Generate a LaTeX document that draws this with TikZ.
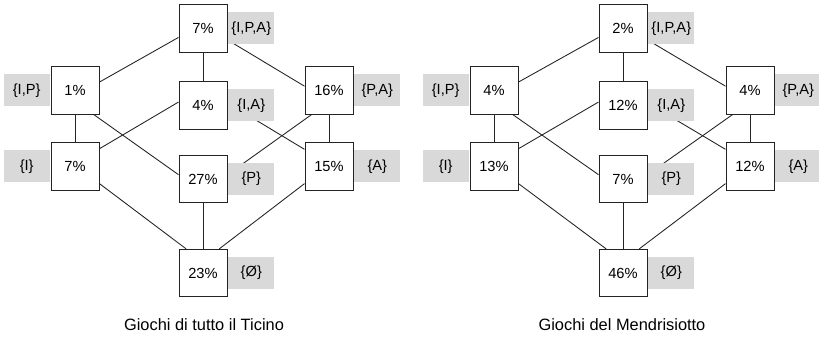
\documentclass[tikz,border=0pt]{standalone}
\usepackage{fontspec}
\setmainfont{Liberation Sans}
\usetikzlibrary{backgrounds}
\definecolor{labelgray}{RGB}{217,217,217}
\definecolor{edgegray}{RGB}{35,35,35}
\tikzset{
  valbox/.style={draw=edgegray, line width=0.75pt, fill=white,
    minimum width=36pt, minimum height=35.5pt, inner sep=0pt,
    font=\fontsize{11}{13}\selectfont},
  setlabel/.style={fill=labelgray, minimum width=34.5pt, minimum height=24pt,
    inner sep=0pt, font=\fontsize{11}{13}\selectfont},
  link/.style={draw=edgegray, line width=0.65pt},
  caption/.style={font=\fontsize{12.3}{14}\selectfont}
}
% Hasse diagram edges of the subset lattice of {I,P,A}
\newcommand{\latticelinks}[1]{%
  \draw[link] (#1ipa.200) -- (#1ip.19);
  \draw[link] (#1ipa.south) -- (#1ia.north);
  \draw[link] (#1ipa.335) -- (#1pa.170);
  \draw[link] (#1ip.south) -- (#1i.north);
  \draw[link] (#1ip.308) -- (#1p.170);
  \draw[link] (#1ia.172) -- (#1i.36);
  \draw[link] (#1ia.6) -- (#1a.145);
  \draw[link] (#1pa.234) -- (#1p.10);
  \draw[link] (#1pa.south) -- (#1a.north);
  \draw[link] (#1i.325) -- (#1e.125);
  \draw[link] (#1p.south) -- (#1e.north);
  \draw[link] (#1a.215) -- (#1e.56);
}
% set labels beside each box
\newcommand{\latticelabels}[1]{%
  \node[setlabel, anchor=west] (#1ipa-set) at ([xshift=0.4pt]#1ipa.east) {\{I,P,A\}};
  \node[setlabel, anchor=east] (#1ip-set) at ([xshift=-0.4pt]#1ip.west) {\{I,P\}};
  \node[setlabel, anchor=west] (#1ia-set) at ([xshift=0.4pt]#1ia.east) {\{I,A\}};
  \node[setlabel, anchor=west] (#1pa-set) at ([xshift=0.4pt]#1pa.east) {\{P,A\}};
  \node[setlabel, anchor=east] (#1i-set) at ([xshift=-0.4pt]#1i.west) {\{I\}};
  \node[setlabel, anchor=west] (#1p-set) at ([xshift=0.4pt]#1p.east) {\{P\}};
  \node[setlabel, anchor=west] (#1a-set) at ([xshift=0.4pt]#1a.east) {\{A\}};
  \node[setlabel, anchor=west] (#1e-set) at ([xshift=0.4pt]#1e.east) {\{Ø\}};
}
\begin{document}
\begin{tikzpicture}[x=0.75pt, y=-0.75pt]
\useasboundingbox (0,0) rectangle (819,338);

% Left lattice: all of Ticino
\node[valbox] (Lipa) at (203,28.5) {7\%};
\node[valbox] (Lip)  at (75,90.5)  {1\%};
\node[valbox] (Lia)  at (203,105.5) {4\%};
\node[valbox] (Lpa)  at (329,90.5) {16\%};
\node[valbox] (Li)   at (75,166.5) {7\%};
\node[valbox] (Lp)   at (203,179)  {27\%};
\node[valbox] (La)   at (329,166.5) {15\%};
\node[valbox] (Le)   at (203,273)  {23\%};
\latticelabels{L}
\node[caption] (Lcap) at (204,325) {Giochi di tutto il Ticino};

% Right lattice: Mendrisiotto
\node[valbox] (Ripa) at (623,28.5) {2\%};
\node[valbox] (Rip)  at (494,90.5) {4\%};
\node[valbox] (Ria)  at (623,105.5) {12\%};
\node[valbox] (Rpa)  at (750,90.5) {4\%};
\node[valbox] (Ri)   at (494,166.5) {13\%};
\node[valbox] (Rp)   at (623,179)  {7\%};
\node[valbox] (Ra)   at (750,166.5) {12\%};
\node[valbox] (Re)   at (623,273)  {46\%};
\latticelabels{R}
\node[caption] (Rcap) at (622,325) {Giochi del Mendrisiotto};

\begin{scope}[on background layer]
  \fill[white] (0,0) rectangle (819,338);
  \latticelinks{L}
  \latticelinks{R}
\end{scope}
\end{tikzpicture}
\end{document}
